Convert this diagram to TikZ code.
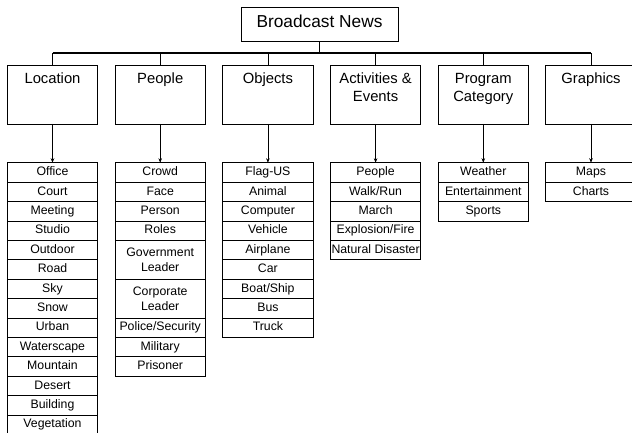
\documentclass[tikz,border=0pt]{standalone}
\usepackage{fontspec}
\setmainfont{Liberation Sans}
\usetikzlibrary{arrows.meta}
\newcommand\cattxt[1]{\parbox[c][58.3pt][t]{90.4pt}{\centering\rule{0pt}{17.6pt}#1}}
\tikzset{
  boxline/.style={line width=0.8pt},
  titlebox/.style={draw, boxline, inner sep=0pt, minimum width=157pt, minimum height=34.7pt,
    text height=12.4pt, text depth=5.3pt, font=\fontsize{17.3}{20}\selectfont},
  catbox/.style={draw, boxline, inner sep=0pt, minimum width=90.4pt, minimum height=58.3pt, anchor=north,
    outer sep=0pt, font=\fontsize{14.8}{18}\selectfont},
  itembase/.style={draw, boxline, inner sep=0pt, outer sep=0pt, minimum width=90.4pt, anchor=north,
    font=\fontsize{12.3}{15}\selectfont, align=center},
  item/.style={itembase, minimum height=19.4pt, text height=9pt, text depth=2.6pt},
  dbl/.style={itembase, minimum height=38.8pt},
  busline/.style={line width=1.4pt},
  drop/.style={line width=0.8pt},
  arr/.style={line width=0.6pt, -{Stealth[length=4.5pt,width=3.6pt]}}
}
\begin{document}
\begin{tikzpicture}[x=1pt,y=-1pt]
\useasboundingbox (0,0) rectangle (632,433);
\clip (0,0) rectangle (632,433);
\node[titlebox] (title) at (319.5,24.35) {Broadcast News};
\coordinate (bus) at (319.5,53);
% categories
\node[catbox] (loc) at (52.5,65.7) {\cattxt{Location}};
\node[catbox] (peo) at (160.2,65.7) {\cattxt{People}};
\node[catbox] (obj) at (267.9,65.7) {\cattxt{Objects}};
\node[catbox] (act) at (375.6,65.7) {\cattxt{Activities \&\\Events}};
\node[catbox] (pro) at (483.3,65.7) {\cattxt{Program\\Category}};
\node[catbox] (gra) at (591,65.7) {\cattxt{Graphics}};
% bus
\draw[busline] (title.south) -- (bus);
\draw[busline] (loc.north |- bus) -- (gra.north |- bus);
\foreach \c in {loc,peo,obj,act,pro,gra}
  \draw[drop] (\c.north) -- (\c.north |- bus);
% Location list
\foreach \t [count=\i] in {Office,Court,Meeting,Studio,Outdoor,Road,Sky,Snow,Urban,Waterscape,Mountain,Desert,Building,Vegetation}
  \node[item] (loc\i) at (52.5,{162.7+19.4*(\i-1)}) {\t};
% People list
\foreach \t [count=\i] in {Crowd,Face,Person,Roles}
  \node[item] (peo\i) at (160.2,{162.7+19.4*(\i-1)}) {\t};
\node[dbl]  (peo5) at (160.2,240.3) {Government\\Leader};
\node[dbl]  (peo6) at (160.2,279.1) {Corporate\\Leader};
\foreach \t [count=\i from 7] in {Police/Security,Military,Prisoner}
  \node[item] (peo\i) at (160.2,{317.9+19.4*(\i-7)}) {\t};
% Objects list
\foreach \t [count=\i] in {Flag-US,Animal,Computer,Vehicle,Airplane,Car,Boat/Ship,Bus,Truck}
  \node[item] (obj\i) at (267.9,{162.7+19.4*(\i-1)}) {\t};
% Activities list
\foreach \t [count=\i] in {People,Walk/Run,March,Explosion/Fire,Natural Disaster}
  \node[item] (act\i) at (375.6,{162.7+19.4*(\i-1)}) {\t};
% Program list
\foreach \t [count=\i] in {Weather,Entertainment,Sports}
  \node[item] (pro\i) at (483.3,{162.7+19.4*(\i-1)}) {\t};
% Graphics list
\foreach \t [count=\i] in {Maps,Charts}
  \node[item] (gra\i) at (591,{162.7+19.4*(\i-1)}) {\t};
% arrows
\foreach \c in {loc,peo,obj,act,pro,gra}
  \draw[arr] (\c.south) -- (\c1.north);
\end{tikzpicture}
\end{document}
